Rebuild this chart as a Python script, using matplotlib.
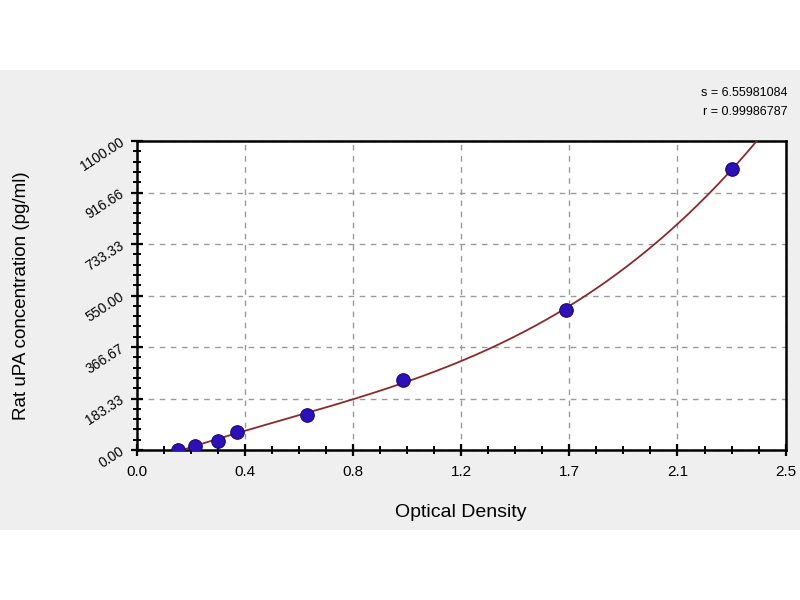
import numpy as np
import matplotlib
matplotlib.use("Agg")
import matplotlib.pyplot as plt
from matplotlib.patches import Rectangle
from matplotlib.ticker import AutoMinorLocator

plt.rcParams['font.family'] = ['Liberation Sans', 'DejaVu Sans']

# Standard curve data (OD vs concentration)
od = [0.158, 0.224, 0.314, 0.387, 0.655, 1.027, 1.654, 2.293]
conc = [0.0, 15.6, 31.25, 62.5, 125.0, 250.0, 500.0, 1000.0]

x_ticks = [0.0, 2.5 / 6, 2 * 2.5 / 6, 3 * 2.5 / 6, 4 * 2.5 / 6, 5 * 2.5 / 6, 2.5]
x_labels = ["0.0", "0.4", "0.8", "1.2", "1.7", "2.1", "2.5"]
y_ticks = [0.0, 183.33, 366.67, 550.0, 733.33, 916.66, 1100.0]
y_labels = ["0.00", "183.33", "366.67", "550.00", "733.33", "916.66", "1100.00"]

fit_s = "s = 6.55981084"
fit_r = "r = 0.99986787"

fig = plt.figure(figsize=(8, 6), dpi=100)
fig.patch.set_facecolor("white")
# grey band behind the chart
band = Rectangle((0, 70 / 600), 1, 460 / 600, transform=fig.transFigure,
                 facecolor="#efefef", edgecolor="none", zorder=-10)
fig.patches.append(band)

ax = fig.add_axes([0.171, 0.25, 0.811, 0.515])
ax.set_facecolor("white")
ax.set_zorder(1)

# fitted curve
coef = np.polyfit(od, conc, 3)
xs = np.linspace(od[0], 2.5, 300)
ax.plot(xs, np.polyval(coef, xs), color="#8b2a2a", lw=1.3, zorder=3)
ax.scatter(od, conc, s=95, color="#2d10b8", edgecolors="#1a0870", linewidths=0.8, zorder=4)

ax.set_xlim(0, 2.5)
ax.set_ylim(0, 1100)
ax.set_xticks(x_ticks)
ax.set_xticklabels(x_labels, fontsize=11)
ax.set_yticks(y_ticks)
ax.set_yticklabels(y_labels, fontsize=10, rotation=33)
ax.xaxis.set_minor_locator(AutoMinorLocator(4))
ax.yaxis.set_minor_locator(AutoMinorLocator(5))
ax.tick_params(axis="both", which="major", direction="inout", length=9, width=1.6, colors="black")
ax.tick_params(axis="both", which="minor", direction="inout", length=6, width=1.4)
ax.tick_params(axis="x", pad=6)
ax.tick_params(axis="y", pad=3)

ax.grid(True, which="major", color="#9a9a9a", linestyle=(0, (4, 4)), linewidth=1)
for sp in ax.spines.values():
    sp.set_linewidth(1.8)

ax.set_xlabel("Optical Density", fontsize=14, labelpad=18)
ax.set_ylabel("Rat uPA concentration (pg/ml)", fontsize=13.5, labelpad=34)

fig.text(0.984, 0.845, fit_s, ha="right", va="center", fontsize=9, zorder=2)
fig.text(0.984, 0.813, fit_r, ha="right", va="center", fontsize=9, zorder=2)

fig.savefig("out.png", dpi=100)
